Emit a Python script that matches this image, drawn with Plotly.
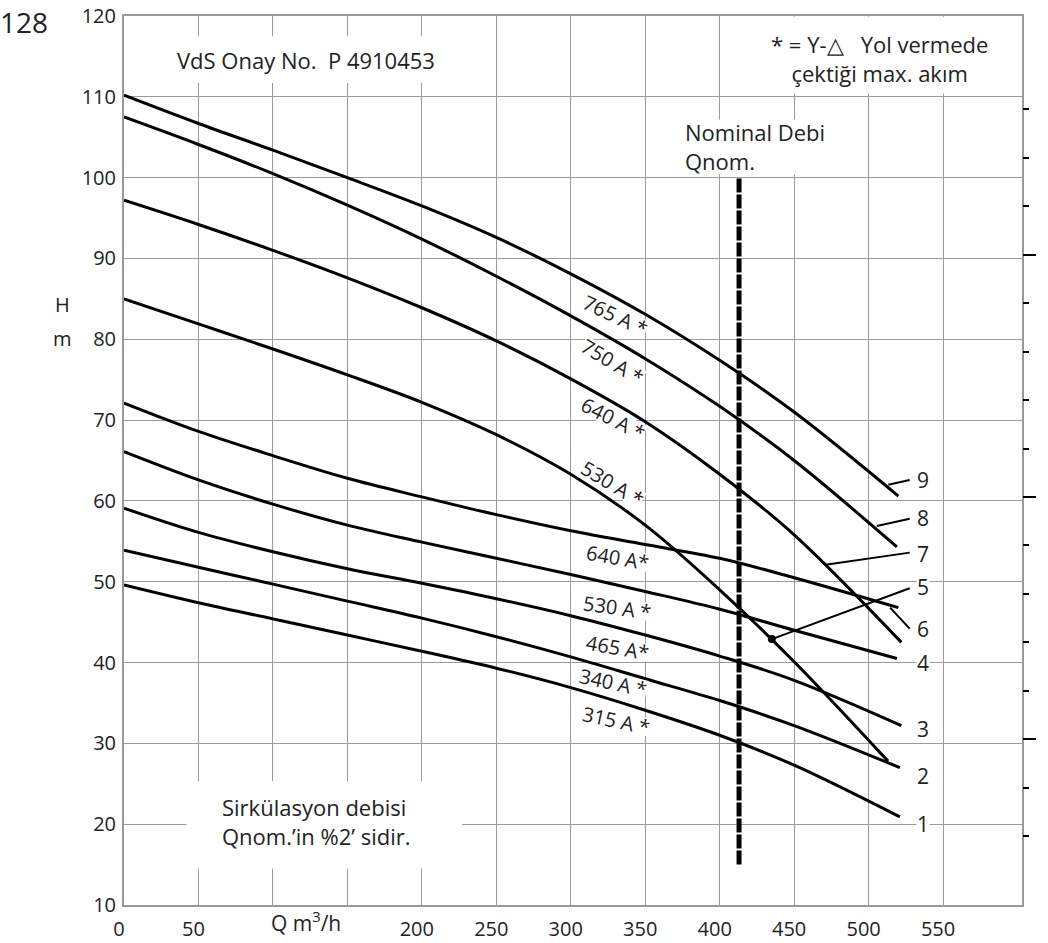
import plotly.graph_objects as go

# ---- data: Q (m3/h) vs H (m) for each pump curve ----
q_grid = [0, 50, 100, 150, 200, 250, 300, 350, 400, 450]
q9 = q_grid + [520]
h9 = [110.2, 106.7, 103.4, 100.0, 96.5, 92.6, 88.1, 83.1, 77.4, 71.0, 60.6]   # 765 A*
q8 = q_grid + [519]
h8 = [107.5, 104.1, 100.5, 96.6, 92.4, 87.8, 82.9, 77.6, 71.7, 65.0, 54.3]    # 750 A*
q7 = q_grid + [522]
h7 = [97.2, 94.2, 91.0, 87.6, 83.9, 79.8, 75.1, 69.8, 63.3, 55.8, 42.5]       # 640 A* (steep)
q5 = q_grid + [513]
h5 = [85.0, 81.9, 78.8, 75.6, 72.2, 68.2, 63.3, 57.0, 49.0, 40.1, 27.8]       # 530 A* (steep)
q6 = q_grid + [520]
h6 = [72.1, 68.6, 65.6, 62.8, 60.5, 58.3, 56.3, 54.6, 52.9, 50.5, 46.8]       # 640 A*
q4 = q_grid + [519]
h4 = [66.1, 62.6, 59.6, 57.0, 54.9, 52.9, 50.9, 48.8, 46.6, 44.0, 40.5]       # 530 A*
q3 = q_grid + [522]
h3 = [59.1, 56.1, 53.7, 51.6, 49.8, 47.9, 45.8, 43.4, 40.8, 37.8, 32.2]       # 465 A*
q2 = q_grid + [521]
h2 = [53.9, 51.8, 49.7, 47.6, 45.5, 43.2, 40.7, 38.0, 35.3, 32.2, 27.0]       # 340 A*
q1 = q_grid + [521]
h1 = [49.6, 47.4, 45.4, 43.4, 41.4, 39.3, 36.9, 34.1, 31.0, 27.3, 20.9]       # 315 A*

curves_q = [q9, q8, q7, q5, q6, q4, q3, q2, q1]
curves_h = [h9, h8, h7, h5, h6, h4, h3, h2, h1]

# curve current labels (placed along the curves)
lbl_text = ["765 A *", "750 A *", "640 A *", "530 A *", "640 A*", "530 A *", "465 A*", "340 A *", "315 A *"]
lbl_q = [330, 327.7, 328.2, 327.7, 331.2, 331.2, 331.2, 328.2, 330.5]
lbl_h = [82.9, 77.2, 70.2, 62.1, 53.0, 46.8, 41.9, 37.5, 32.8]
lbl_ang = [25, 31, 27, 31, 10, 8, 10, 12, 12]

# curve numbers at right end
num_text = ["9", "8", "7", "5", "6", "4", "3", "2", "1"]
num_q = 536.3
num_h = [62.6, 57.9, 53.4, 49.4, 44.2, 40.0, 31.8, 26.0, 20.0]

# leader lines (Q, H) from curve to number
lead_q = [[513.2, 527.6], [505.5, 527.6], [471.1, 527.6], [435.0, 527.6], [514.4, 527.6]]
lead_h = [[62.0, 62.6], [56.9, 57.8], [52.1, 53.6], [42.9, 49.2], [46.8, 44.2]]
dot_q = [435.0]
dot_h = [42.9]

# nominal flow line
nom_q = 413
nom_h = [15, 100]

# axes
x_tickvals = [0, 50, 200, 250, 300, 350, 400, 450, 500, 550]
x_ticktext = ["0", "50", "200", "250", "300", "350", "400", "450", "500", "550"]
x_unlabelled = [100, 150]
y_tickvals = [10, 20, 30, 40, 50, 60, 70, 80, 90, 100, 110, 120]
ft_major = [100, 200, 300]
ft_minor = [60, 80, 120, 140, 160, 180, 220, 240, 260, 280, 320, 340, 360]

FONT = "Open Sans"
TXT = "#222222"
GRID = "#9b9b9b"

fig = go.Figure()

for qs, hs in zip(curves_q, curves_h):
    fig.add_trace(go.Scatter(x=qs, y=hs, mode="lines",
                             line=dict(color="black", width=3, shape="spline", smoothing=1.0),
                             hoverinfo="skip", showlegend=False))

for lq, lh in zip(lead_q, lead_h):
    fig.add_trace(go.Scatter(x=lq, y=lh, mode="lines", line=dict(color="black", width=2),
                             hoverinfo="skip", showlegend=False))

fig.add_trace(go.Scatter(x=dot_q, y=dot_h, mode="markers", marker=dict(color="black", size=8),
                         hoverinfo="skip", showlegend=False))

fig.add_trace(go.Scatter(x=[nom_q, nom_q], y=nom_h, mode="lines",
                         line=dict(color="black", width=5, dash="14px,2px"),
                         hoverinfo="skip", showlegend=False))

# invisible trace for the right-hand (ft) tick axis
fig.add_trace(go.Scatter(x=[300], y=[200], yaxis="y2", mode="markers",
                         marker=dict(opacity=0), hoverinfo="skip", showlegend=False))

annotations = []
for t, q, h, a in zip(lbl_text, lbl_q, lbl_h, lbl_ang):
    annotations.append(dict(x=q, y=h, xref="x", yref="y", text=t, showarrow=False,
                            textangle=a, font=dict(family=FONT, size=20, color=TXT),
                            bgcolor="white", borderpad=0, height=17))
for t, h in zip(num_text, num_h):
    annotations.append(dict(x=num_q, y=h, xref="x", yref="y", text=t, showarrow=False,
                            font=dict(family=FONT, size=21, color=TXT), bgcolor="white",
                            borderpad=0, height=22))


def txt(x, y, s, size=22, xanchor="center", xref="x", yref="y", align="center"):
    return dict(x=x, y=y, xref=xref, yref=yref, xanchor=xanchor, yanchor="middle", align=align,
                text=s, showarrow=False, font=dict(family=FONT, size=size, color=TXT))


annotations += [
    txt(34.5, 114.6, "VdS Onay No.\u00a0\u00a0P 4910453", size=22, xanchor="left"),
    txt(507.4, 114.8, "* = Y-\u25b3\u00a0\u00a0\u00a0Yol vermede<br>çektiği max. akım", size=22),
    txt(375.2, 103.9, "Nominal Debi<br>Qnom.", size=22, xanchor="left", align="left"),
    txt(64.4, 20.3, "Sirkülasyon debisi<br>Qnom.’in %2’ sidir.", size=22, xanchor="left", align="left"),
    txt(122, -0.019, "Q m<sup>3</sup>/h", size=21, yref="paper"),
    txt(-0.069, 0.676, "H", size=20, xref="paper", yref="paper"),
    txt(-0.069, 0.637, "m", size=20, xref="paper", yref="paper"),
    txt(-0.111, 0.993, "128", size=28, xref="paper", yref="paper"),
]

shapes = [
    dict(type="rect", xref="x", yref="y", x0=30, x1=215, y0=111.7, y1=117.5,
         fillcolor="white", line=dict(width=0), layer="between"),
    dict(type="rect", xref="x", yref="y", x0=403, x1=603, y0=110.4, y1=119.9,
         fillcolor="white", line=dict(width=0), layer="between"),
    dict(type="rect", xref="x", yref="y", x0=395, x1=470, y0=100.4, y1=107.2,
         fillcolor="white", line=dict(width=0), layer="between"),
    dict(type="rect", xref="x", yref="y", x0=42, x1=227, y0=14.5, y1=25.3,
         fillcolor="white", line=dict(width=0), layer="between"),
]

fig.update_layout(
    width=1048, height=943,
    margin=dict(l=124, r=26, t=16, b=38, autoexpand=False),
    paper_bgcolor="white", plot_bgcolor="white",
    showlegend=False,
    font=dict(family=FONT, color=TXT),
    xaxis=dict(range=[0, 603], tickmode="array", tickvals=x_tickvals, ticktext=x_ticktext,
               showgrid=True, gridcolor=GRID, gridwidth=1.3, zeroline=False,
               showline=True, mirror=True, linecolor="#999999", linewidth=2,
               ticks="", ticklen=0, tickfont=dict(family=FONT, size=20, color=TXT),
               ticklabelshift=-5, ticklabelstandoff=5, automargin=False, fixedrange=True,
               minor=dict(tickmode="array", tickvals=x_unlabelled, ticks="",
                          showgrid=True, gridcolor=GRID, gridwidth=1.3)),
    yaxis=dict(range=[10, 120], tickmode="array", tickvals=y_tickvals,
               showgrid=True, gridcolor=GRID, gridwidth=1.3, zeroline=False,
               showline=True, mirror=True, linecolor="#999999", linewidth=2,
               ticks="", ticklen=0, tickfont=dict(family=FONT, size=20, color=TXT),
               ticklabelstandoff=2, automargin=False, fixedrange=True),
    yaxis2=dict(range=[31.5, 398.6], overlaying="y", side="right", anchor="x",
                tickmode="array", tickvals=ft_major, ticks="outside", ticklen=13,
                tickwidth=2, tickcolor="black", showticklabels=False, showgrid=False,
                zeroline=False, showline=False, automargin=False, fixedrange=True,
                minor=dict(tickmode="array", tickvals=ft_minor, ticks="outside",
                           ticklen=6, tickwidth=2, tickcolor="black", showgrid=False)),
    annotations=annotations,
    shapes=shapes,
)

fig.write_html("out.html", config={"displayModeBar": False},
               post_script="document.body.style.margin='0px';")
